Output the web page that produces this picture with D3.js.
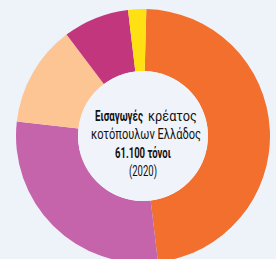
<!DOCTYPE html>
<html>
<head>
<meta charset="utf-8">
<script src="https://cdn.jsdelivr.net/npm/d3@7"></script>
<style>
  html, body { margin: 0; padding: 0; background: #eef2f9; }
  svg { display: block; }
</style>
</head>
<body>
<div id="chart"></div>
<script>
// shares of imports, clockwise from the top
const categories = ["Α", "Β", "Γ", "Δ", "Ε"];
const shares = [47.7, 28.7, 12.9, 8.4, 2.3];
const colors = ["#f26f2d", "#c564ab", "#fcc593", "#c1367c", "#ffe012"];
// title pieces and which line each sits on
const titleText = ["Εισαγωγές", "κρέατος", "κοτόπουλων Ελλάδος", "61.100 τόνοι", "(2020)"];
const titleBold = [true, false, false, true, false];
const titleLine = [0, 0, 1, 2, 3];

const width = 276, height = 259;
const cx = 143, cy = 136;
const outerR = 127, innerR = 65;
const offset = 1.5 * Math.PI / 180;
const pieceX = [95, 148, 91, 115, 129];
const pieceW = [48, 49, 110, 56, 28];
const baselines = [120.5, 139, 158, 176];

const svg = d3.select("#chart").append("svg")
  .attr("width", width).attr("height", height);

svg.append("rect").attr("width", width).attr("height", height).attr("fill", "#eef2f9");

const g = svg.append("g").attr("transform", "translate(" + cx + "," + cy + ")");

const pie = d3.pie().sort(null)
  .startAngle(offset).endAngle(2 * Math.PI + offset)
  .value((d, i) => shares[i]);

const arc = d3.arc().innerRadius(innerR).outerRadius(outerR);
const color = d3.scaleOrdinal(categories, colors);

g.selectAll("path.slice")
  .data(pie(categories))
  .enter().append("path")
  .attr("class", "slice")
  .attr("d", arc)
  .attr("fill", d => color(d.data));

g.append("circle").attr("r", innerR).attr("fill", "#f0f4fa");

// condensed look: squeeze each piece horizontally to its width
svg.append("g")
  .attr("font-family", "Roboto, 'DejaVu Sans', sans-serif")
  .attr("font-size", 15)
  .attr("fill", "#111")
  .selectAll("text")
  .data(titleText)
  .enter().append("text")
  .attr("font-weight", (d, i) => titleBold[i] ? "bold" : "normal")
  .text(d => d)
  .each(function(d, i) {
    const w = this.getComputedTextLength();
    const sx = pieceW[i] / w;
    d3.select(this).attr("transform",
      "translate(" + pieceX[i] + "," + baselines[titleLine[i]] + ") scale(" + sx + ",1)");
  });
</script>
</body>
</html>
